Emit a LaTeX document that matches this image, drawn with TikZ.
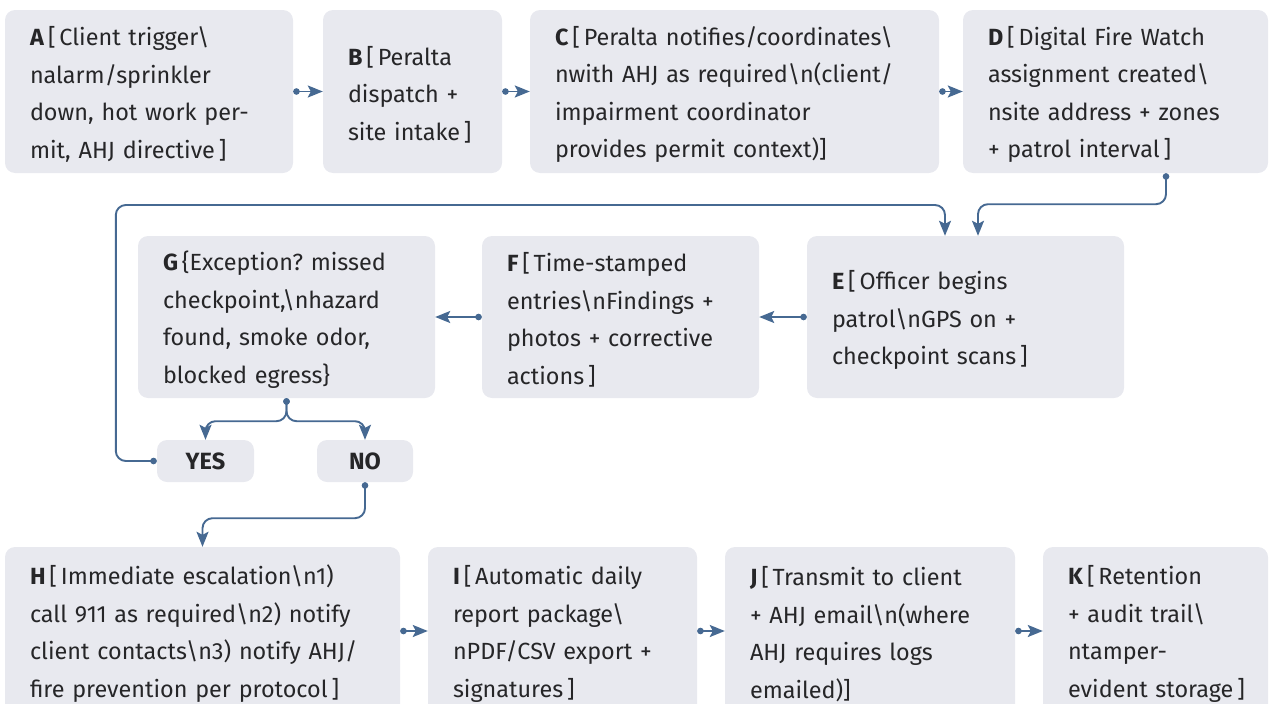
\documentclass[tikz,border=0pt]{standalone}
\usepackage{fontspec}
\setmainfont{Fira Sans}
\usetikzlibrary{arrows.meta}
\definecolor{boxc}{RGB}{232,233,239}
\definecolor{linec}{RGB}{70,105,146}
\definecolor{txtc}{RGB}{38,38,40}
\newcommand{\bs}{\textbackslash}
\newcommand{\tstrut}{\rule{0pt}{25pt}}
\tikzset{
  bx/.style={fill=boxc, draw=none, rounded corners=10pt, align=left, inner xsep=25pt, inner ysep=0pt,
    text=txtc, font=\fontsize{23.4}{37.5}\selectfont\frenchspacing, anchor=center,
    execute at begin node=\tstrut},
  lbl/.style={fill=boxc, draw=none, rounded corners=10pt, align=center, inner sep=0pt,
    text=txtc, font=\fontsize{23.5}{30}\selectfont\bfseries, minimum height=42pt},
  conn/.style={draw=linec, line width=1.9pt, rounded corners=10pt,
    {Circle[length=6.5pt]}-{Stealth[length=15pt,width=12pt,inset=3pt]}}
}
\begin{document}
\begin{tikzpicture}[x=1pt,y=-1pt]
\useasboundingbox (0,0) rectangle (1269,704);
% top row
\node[bx, text width=238pt, minimum height=163pt] (A) at (149,91.5)
 {\textbf{A}\,[\,Client trigger\bs\\nalarm/sprinkler\\down, hot work per-\\mit, AHJ directive\,]};
\node[bx, text width=129pt, minimum height=163pt] (B) at (412.5,91.5)
 {\textbf{B}\,[\,Peralta\\dispatch +\\site intake\,]};
\node[bx, text width=359pt, minimum height=163pt] (C) at (734.5,91.5)
 {\textbf{C}\,[\,Peralta notifies/coordinates\bs\\nwith AHJ as required\bs n(client/\\impairment coordinator\\provides permit context)]};
\node[bx, text width=255pt, minimum height=163pt] (D) at (1115.5,91.5)
 {\textbf{D}\,[\,Digital Fire Watch\\assignment created\bs\\nsite address + zones\\+ patrol interval\,]};
% middle row
\node[bx, text width=247pt, minimum height=162pt] (G) at (286.5,317)
 {\textbf{G}\,\{Exception? missed\\checkpoint,\bs nhazard\\found, smoke odor,\\blocked egress\}};
\node[bx, text width=227pt, minimum height=162pt] (F) at (620.5,317)
 {\textbf{F}\,[\,Time-stamped\\entries\bs nFindings +\\photos + corrective\\actions\,]};
\node[bx, text width=267pt, minimum height=162pt] (E) at (965.5,317)
 {\textbf{E}\,[\,Officer begins\\patrol\bs nGPS on +\\checkpoint scans\,]};
\node[lbl, minimum width=97pt] (YES) at (205.5,461) {YES};
\node[lbl, minimum width=96pt] (NO) at (365,461) {NO};
% bottom row
\node[bx, text width=345pt, minimum height=168pt] (H) at (202.5,631)
 {\textbf{H}\,[\,Immediate escalation\bs n1)\\call 911 as required\bs n2) notify\\client contacts\bs n3) notify AHJ/\\\mbox{fire prevention per protocol\,]}};
\node[bx, text width=219pt, minimum height=168pt] (I) at (562.5,631)
 {\textbf{I}\,[\,Automatic daily\\report package\bs\\nPDF/CSV export +\\signatures\,]};
\node[bx, text width=240pt, minimum height=168pt] (J) at (870,631)
 {\textbf{J}\,[\,Transmit to client\\+ AHJ email\bs n(where\\AHJ requires logs\\emailed)]};
\node[bx, text width=175pt, minimum height=168pt] (K) at (1155.5,631)
 {\textbf{K}\,[\,Retention\\\mbox{+ audit trail\bs}\\ntamper-\\\mbox{evident storage\,]}};
% connectors
\draw[conn] (A.east) -- (B.west);
\draw[conn] (B.east) -- (C.west);
\draw[conn] (C.east) -- (D.west);
\draw[conn] ([xshift=50.5pt]D.south) -- ++(0,31) -| ([xshift=12.5pt]E.north);
\draw[conn] (E.west) -- (F.east);
\draw[conn] (F.west) -- (G.east);
\draw[conn] (G.south) -- ++(0,23) -| (YES.north);
\draw[conn] (G.south) -- ++(0,23) -| (NO.north);
\draw[conn] (YES.west) -- ++(-41,0) -- ++(0,-256) -| ([xshift=-20.5pt]E.north);
\draw[conn] (NO.south) -- ++(0,36) -| (H.north);
\draw[conn] (H.east) -- (I.west);
\draw[conn] (I.east) -- (J.west);
\draw[conn] (J.east) -- (K.west);
\end{tikzpicture}
\end{document}
